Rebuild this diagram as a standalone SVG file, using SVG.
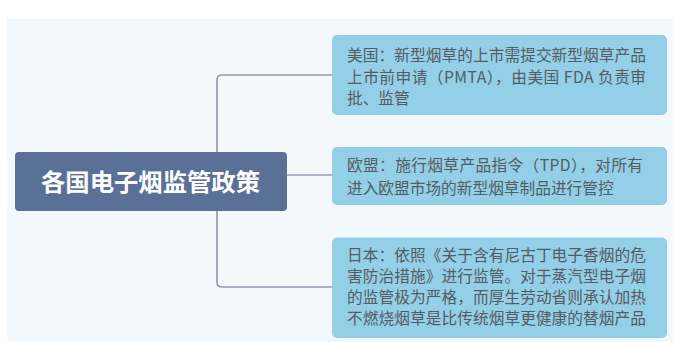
<svg xmlns="http://www.w3.org/2000/svg" width="675" height="342" viewBox="0 0 675 342">
<style>
.box{fill:#93cfe6;}
.t{font-family:"Noto Sans CJK SC","Noto Sans",sans-serif;font-size:15.7px;fill:#555b63;}
.c{fill:none;stroke:#939cb0;stroke-width:1.7;}
</style>
<rect x="0" y="0" width="675" height="342" fill="#ffffff"/>
<rect x="7" y="19" width="666" height="323" fill="#f3f8fd"/>
<g id="connectors">
<path class="c" d="M332,75 H222 Q217,75 217,80 V282 Q217,287 222,287 H332"/>
<path class="c" d="M287,175 H332"/>
</g>
<g id="root">
<rect x="15" y="152" width="272" height="59" rx="4" fill="#5a7097"/>
<text x="41" y="190.5" textLength="219" lengthAdjust="spacingAndGlyphs" font-family="Noto Sans CJK SC, sans-serif" font-size="24" font-weight="bold" fill="#ffffff">各国电子烟监管政策</text>
</g>
<g id="usa">
<rect class="box" x="332" y="35" width="335" height="80" rx="5"/>
<text class="t" x="347" y="61" textLength="299" lengthAdjust="spacing">美国：新型烟草的上市需提交新型烟草产品</text>
<text class="t" x="347" y="82.5" textLength="299" lengthAdjust="spacing">上市前申请（PMTA），由美国 FDA 负责审</text>
<text class="t" x="347" y="104">批、监管</text>
</g>
<g id="eu">
<rect class="box" x="332" y="147" width="335" height="58" rx="5"/>
<text class="t" x="347" y="171" textLength="296" lengthAdjust="spacing">欧盟：施行烟草产品指令（TPD），对所有</text>
<text class="t" x="347" y="193.5">进入欧盟市场的新型烟草制品进行管控</text>
</g>
<g id="japan">
<rect class="box" x="332" y="237.5" width="335" height="100.5" rx="5"/>
<text class="t" x="347" y="260.5" textLength="299" lengthAdjust="spacing">日本：依照《关于含有尼古丁电子香烟的危</text>
<text class="t" x="347" y="281.8" textLength="299" lengthAdjust="spacing">害防治措施》进行监管。对于蒸汽型电子烟</text>
<text class="t" x="347" y="303.1" textLength="299" lengthAdjust="spacing">的监管极为严格，而厚生劳动省则承认加热</text>
<text class="t" x="347" y="324.4" textLength="299" lengthAdjust="spacing">不燃烧烟草是比传统烟草更健康的替烟产品</text>
</g>
</svg>
